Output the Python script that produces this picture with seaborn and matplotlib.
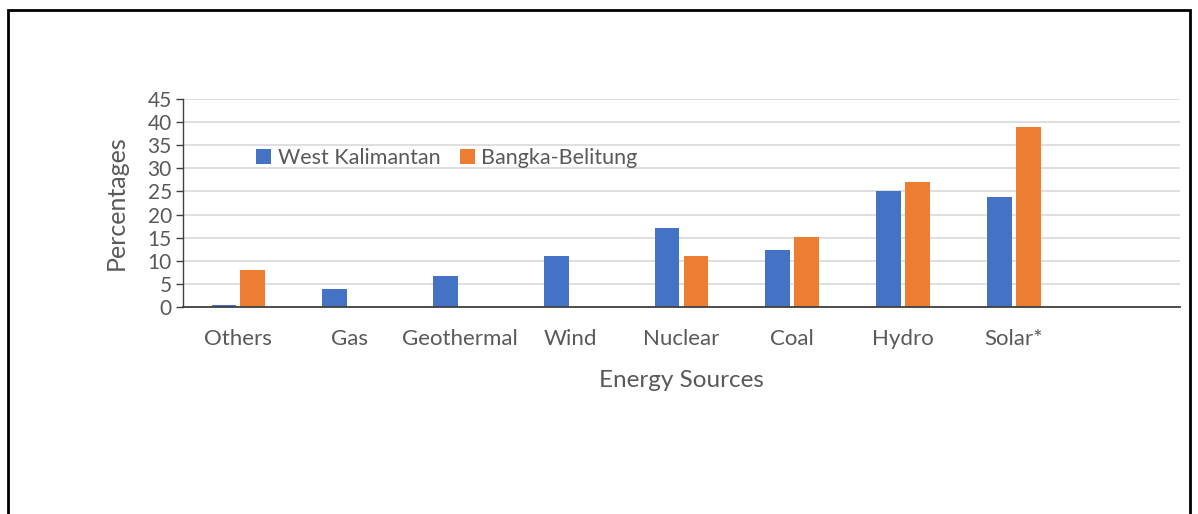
import matplotlib
matplotlib.use("Agg")
import matplotlib.pyplot as plt
from matplotlib.patches import Rectangle
import seaborn as sns
import pandas as pd

# Share of each energy source (%)
sources = ["Others", "Gas", "Geothermal", "Wind", "Nuclear", "Coal", "Hydro", "Solar*"]
west_kalimantan = [0.4, 3.8, 6.8, 11.0, 17.0, 12.3, 25.1, 23.7]
bangka_belitung = [7.9, 0.0, 0.0, 0.0, 11.0, 15.1, 27.1, 39.0]
regions = ["West Kalimantan", "Bangka-Belitung"]
y_ticks = [0, 5, 10, 15, 20, 25, 30, 35, 40, 45]

df = pd.DataFrame({
    "Source": sources * 2,
    "Region": [regions[0]] * len(sources) + [regions[1]] * len(sources),
    "Value": west_kalimantan + bangka_belitung,
})

sns.set_theme(style="white")
plt.rcParams["font.family"] = ["Lato", "DejaVu Sans"]

grey = "#595959"
fig = plt.figure(figsize=(11.98, 5.14), dpi=100)
ax = fig.add_axes([183 / 1198, 1 - 307 / 514, (1180 - 183) / 1198, (307 - 99) / 514])

sns.barplot(
    data=df, x="Source", y="Value", hue="Region", order=sources,
    hue_order=regions, palette=["#4472C4", "#ED7D31"], saturation=1,
    width=0.52, gap=0.14, errorbar=None, linewidth=0, ax=ax,
)

ax.set_xlim(-0.5, len(sources) + 0.5)
ax.set_ylim(0, 45)
ax.set_yticks(y_ticks)
ax.yaxis.grid(True, color="#d9d9d9", linewidth=1.2)
ax.set_axisbelow(True)
for side in ("top", "right"):
    ax.spines[side].set_visible(False)
ax.spines["bottom"].set_color("#404040")
ax.spines["bottom"].set_linewidth(1.3)
ax.spines["left"].set_color("#404040")
ax.spines["left"].set_linewidth(1.0)
ax.tick_params(axis="y", left=True, length=5, width=1, color="#404040",
               labelsize=15, labelcolor=grey, pad=3)
ax.tick_params(axis="x", bottom=False, labelsize=16, labelcolor=grey, pad=10)

ax.set_xlabel("Energy Sources", fontsize=17.5, color=grey, labelpad=15)
ax.set_ylabel("Percentages", fontsize=18, color=grey, labelpad=14)

ax.legend(
    loc="center left", bbox_to_anchor=(256 / 1198, 1 - 158 / 514),
    bbox_transform=fig.transFigure, ncol=2, frameon=False, fontsize=15.5,
    handlelength=0.7, handleheight=0.7, handletextpad=0.3,
    columnspacing=0.9, labelcolor=grey, borderaxespad=0, borderpad=0,
)

# Frame around the figure
fig.add_artist(Rectangle((8 / 1198, -0.05), (1190 - 8) / 1198, 1.05 - 10 / 514,
                         transform=fig.transFigure, fill=False,
                         edgecolor="black", linewidth=2))

fig.savefig("out.png", dpi=100)
